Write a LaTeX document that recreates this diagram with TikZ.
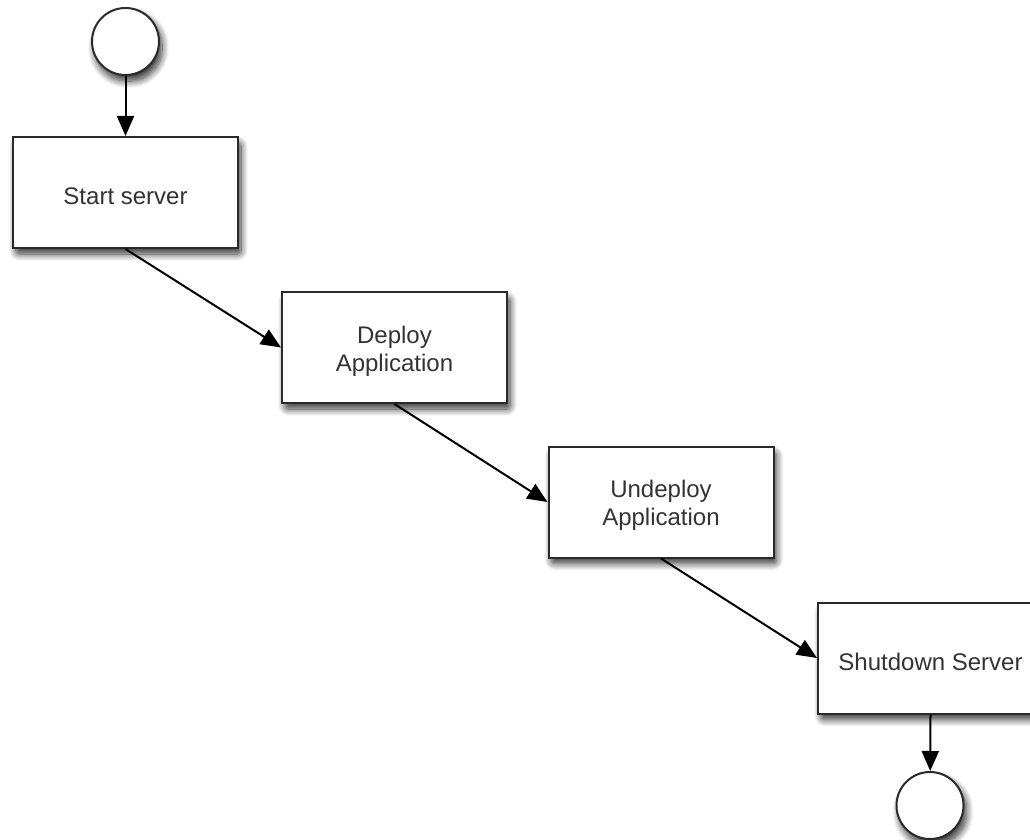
\documentclass[tikz,border=0pt]{standalone}
\usepackage{fontspec}
\setmainfont{Liberation Sans}
\usetikzlibrary{arrows.meta,shadows.blur}
\definecolor{edge}{HTML}{2A2A2A}
\definecolor{txt}{HTML}{333333}
\newcommand{\tdown}{\rule{0pt}{24.5pt}}
\tikzset{
  shade blur/.style={blur shadow={shadow xshift=3pt, shadow yshift=-6pt, shadow blur steps=10,
    shadow blur radius=7pt, shadow blur extra rounding=3pt, shadow opacity=80}},
  act/.style={draw=edge, line width=2pt, fill=white, minimum width=225pt, minimum height=111pt,
    inner sep=0pt, align=center, text=txt, font=\fontsize{24}{28}\selectfont, shade blur},
  term/.style={draw=edge, line width=2pt, fill=white, circle, minimum size=67pt, inner sep=0pt,
    shade blur},
  flow/.style={draw=black, line width=2pt, -{Triangle[length=20pt,width=17pt]}}
}
\begin{document}
\begin{tikzpicture}[x=1pt,y=-1pt]
\useasboundingbox (0,0) rectangle (1030,840);
\clip (0,0) rectangle (1030,840);
\node[term] (s) at (125.5,41.5) {};
\node[act] (a) at (125.5,192.5) {\tdown Start server};
\node[act] (b) at (394.5,347.5) {\tdown Deploy\\Application};
\node[act] (c) at (661,502) {\tdown Undeploy\\Application};
\node[act] (d) at (930.5,658) {\tdown Shutdown Server};
\node[term] (e) at (930,805.5) {};
\draw[flow] (s) -- (a);
\draw[flow] (a.south) -- (b.west);
\draw[flow] (b.south) -- (c.west);
\draw[flow] (c.south) -- (d.west);
\draw[flow] (d.south) -- (e);
\end{tikzpicture}
\end{document}
